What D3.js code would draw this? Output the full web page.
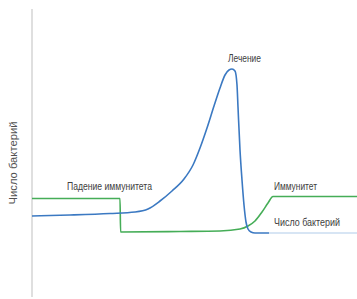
<!DOCTYPE html>
<html>
<head>
<meta charset="utf-8">
<script src="https://cdn.jsdelivr.net/npm/d3@7"></script>
<style>
  body { margin: 0; background: #fff; }
  text { font-family: "Liberation Sans Narrow", "Arial Narrow", "Liberation Sans", sans-serif; font-size: 10px; fill: #404040; }
</style>
</head>
<body>
<div id="chart"></div>
<script>
// time (x) and level (y), in plot units
const bacteriaX = [0, 38, 78, 103, 116, 128, 140, 152, 161, 168, 175, 182, 188, 193, 197, 200, 203, 205, 206, 208, 210, 212, 214, 216, 219, 223, 237];
const bacteriaY = [81, 82, 83.5, 85, 88, 96, 106, 118, 132, 149, 169, 191, 209, 222, 227, 228, 226, 212, 190, 147, 117, 92, 75, 68, 65, 64, 64];
const bacteriaTailX = [237, 325];
const bacteriaTailY = [64, 64];

const immunityX = [0, 88, 88.6, 148, 188, 208, 216, 223, 230, 236, 241, 325];
const immunityY = [98.5, 98.5, 65, 65.5, 66, 68, 71, 76, 85, 94, 100.5, 100.5];

const labels = [
  { text: "Лечение", x: 196, y: 235, w: 33 },
  { text: "Падение иммунитета", x: 35, y: 107, w: 85 },
  { text: "Иммунитет", x: 242, y: 107, w: 43 },
  { text: "Число бактерий", x: 242, y: 71, w: 66 }
];
const yTitle = "Число бактерий";

const width = 357, height = 299;
const margin = { top: 9, right: 0, bottom: 2, left: 32 };

const x = d3.scaleLinear().domain([0, 325]).range([margin.left, width - margin.right]);
const y = d3.scaleLinear().domain([0, 288]).range([height - margin.bottom, margin.top]);

const svg = d3.select("#chart").append("svg")
    .attr("width", width)
    .attr("height", height);

// vertical axis, no ticks
svg.append("line")
    .attr("x1", x(0)).attr("x2", x(0))
    .attr("y1", y(288)).attr("y2", y(0))
    .attr("stroke", "#d4d4d4")
    .attr("stroke-width", 1.5);

svg.append("text")
    .attr("transform", "translate(17," + y(134) + ") rotate(-90)")
    .attr("text-anchor", "middle")
    .attr("textLength", 83)
    .attr("lengthAdjust", "spacingAndGlyphs")
    .style("fill", "#505050")
    .text(yTitle);

const line = d3.line()
    .x(d => x(d[0]))
    .y(d => y(d[1]))
    .curve(d3.curveMonotoneX);

// green: immunity
svg.append("path")
    .datum(immunityX.map((v, i) => [v, immunityY[i]]))
    .attr("d", line)
    .attr("fill", "none")
    .attr("stroke", "#45ad57")
    .attr("stroke-width", 1.6);

// blue: bacteria
svg.append("path")
    .datum(bacteriaTailX.map((v, i) => [v, bacteriaTailY[i]]))
    .attr("d", line)
    .attr("fill", "none")
    .attr("stroke", "#cadcf0")
    .attr("stroke-width", 1.4);

svg.append("path")
    .datum(bacteriaX.map((v, i) => [v, bacteriaY[i]]))
    .attr("d", line)
    .attr("fill", "none")
    .attr("stroke", "#3b79c2")
    .attr("stroke-width", 1.6);

svg.selectAll("text.lbl")
    .data(labels)
    .join("text")
    .attr("class", "lbl")
    .attr("x", d => x(d.x))
    .attr("y", d => y(d.y))
    .attr("textLength", d => d.w)
    .attr("lengthAdjust", "spacingAndGlyphs")
    .text(d => d.text);
</script>
</body>
</html>
